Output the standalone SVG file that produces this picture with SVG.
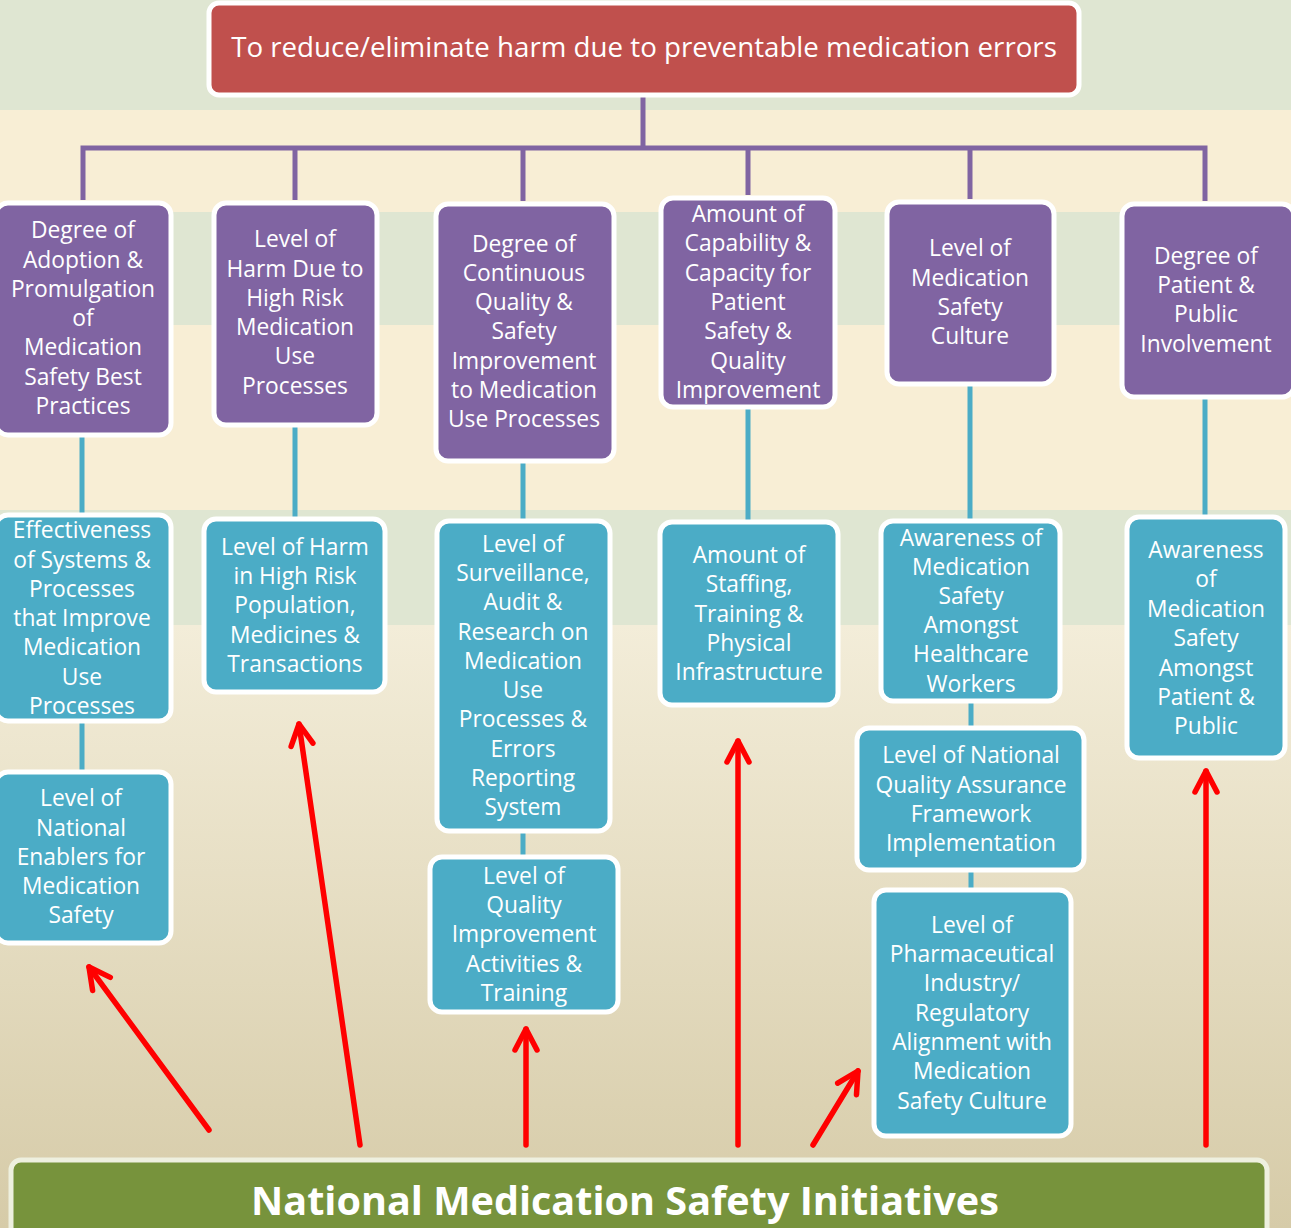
<svg xmlns="http://www.w3.org/2000/svg" width="1291" height="1228" viewBox="0 0 1291 1228">
<defs>
<linearGradient id="bg" x1="0" y1="0" x2="0" y2="1">
<stop offset="0" stop-color="#f3edd9"/>
<stop offset="1" stop-color="#d6cba8"/>
</linearGradient>
<marker id="ah" viewBox="-26 -15 30 30" refX="0" refY="0" markerWidth="30" markerHeight="30" markerUnits="userSpaceOnUse" orient="auto">
<path d="M-21,-11 L0,0 L-21,11" fill="none" stroke="#ff0000" stroke-width="5.5" stroke-linecap="round" stroke-linejoin="round"/>
</marker>
<style>
.red{fill:#c0504d;stroke:#ffffff;stroke-width:5}
.pur{fill:#8064a2;stroke:#ffffff;stroke-width:5}
.teal{fill:#4bacc6;stroke:#ffffff;stroke-width:5}
.grn{fill:#77933c;stroke:#eef0df;stroke-width:5}
text{font-family:"Open Sans","Noto Sans","Liberation Sans",sans-serif;fill:#ffffff;text-anchor:middle}
.t{font-size:22.8px}
.title{font-size:27.7px}
.big{font-size:39.6px;font-weight:bold}
.pl{stroke:#8064a2;stroke-width:5;fill:none}
.tl{stroke:#4bacc6;stroke-width:5;fill:none}
.ar{stroke:#ff0000;stroke-width:5.5;fill:none;stroke-linecap:round;marker-end:url(#ah)}
</style>
</defs>
<g id="background">
<rect x="0" y="625" width="1291" height="603" fill="url(#bg)"/>
<rect x="0" y="0" width="1291" height="110" fill="#dfe6d2"/>
<rect x="0" y="110" width="1291" height="102" fill="#f8eed5"/>
<rect x="0" y="212" width="1291" height="113" fill="#dfe6d2"/>
<rect x="0" y="325" width="1291" height="185" fill="#f8eed5"/>
<rect x="0" y="510" width="1291" height="115" fill="#dfe6d2"/>
</g>
<g id="connectors">
<path class="pl" d="M643,96 V148 M83,200 V148 H1205 V201 M295,148 V200 M523,148 V201 M748,148 V195 M970,148 V199"/>
<path class="tl" d="M82,436 V514 M82,722 V771 M295,426 V518 M523,462 V520 M523,832 V856 M748,408 V521 M970,385 V520 M971,702 V727 M971,871 V889 M1205,398 V516"/>
<line class="ar" x1="209" y1="1130" x2="89" y2="967"/>
<line class="ar" x1="360" y1="1145" x2="299" y2="724"/>
<line class="ar" x1="526" y1="1145" x2="526" y2="1029"/>
<line class="ar" x1="738" y1="1145" x2="738" y2="741"/>
<line class="ar" x1="813" y1="1145" x2="858" y2="1071"/>
<line class="ar" x1="1206" y1="1145" x2="1206" y2="771"/>
</g>
<g id="goal">
<rect class="red" x="209" y="3" width="870" height="92" rx="10"/>
<text class="title" x="644" y="57">To reduce/eliminate harm due to preventable medication errors</text>
</g>
<g id="p1">
<rect class="pur" x="-4" y="203" width="175" height="232" rx="12"/>
<text class="t"><tspan x="83" y="238">Degree of</tspan><tspan x="83" y="268">Adoption &amp;</tspan><tspan x="83" y="297">Promulgation</tspan><tspan x="83" y="326">of</tspan><tspan x="83" y="355">Medication</tspan><tspan x="83" y="385">Safety Best</tspan><tspan x="83" y="414">Practices</tspan></text>
</g>
<g id="p2">
<rect class="pur" x="214" y="203" width="163" height="222" rx="12"/>
<text class="t"><tspan x="295" y="247">Level of</tspan><tspan x="295" y="277">Harm Due to</tspan><tspan x="295" y="306">High Risk</tspan><tspan x="295" y="335">Medication</tspan><tspan x="295" y="364">Use</tspan><tspan x="295" y="394">Processes</tspan></text>
</g>
<g id="p3">
<rect class="pur" x="436" y="204" width="178" height="257" rx="12"/>
<text class="t"><tspan x="524" y="252">Degree of</tspan><tspan x="524" y="281">Continuous</tspan><tspan x="524" y="310">Quality &amp;</tspan><tspan x="524" y="339">Safety</tspan><tspan x="524" y="369">Improvement</tspan><tspan x="524" y="398">to Medication</tspan><tspan x="524" y="427">Use Processes</tspan></text>
</g>
<g id="p4">
<rect class="pur" x="661" y="198" width="174" height="209" rx="12"/>
<text class="t"><tspan x="748" y="222">Amount of</tspan><tspan x="748" y="251">Capability &amp;</tspan><tspan x="748" y="281">Capacity for</tspan><tspan x="748" y="310">Patient</tspan><tspan x="748" y="339">Safety &amp;</tspan><tspan x="748" y="369">Quality</tspan><tspan x="748" y="398">Improvement</tspan></text>
</g>
<g id="p5">
<rect class="pur" x="887" y="202" width="167" height="182" rx="12"/>
<text class="t"><tspan x="970" y="256">Level of</tspan><tspan x="970" y="286">Medication</tspan><tspan x="970" y="315">Safety</tspan><tspan x="970" y="344">Culture</tspan></text>
</g>
<g id="p6">
<rect class="pur" x="1122" y="204" width="172" height="193" rx="12"/>
<text class="t"><tspan x="1206" y="264">Degree of</tspan><tspan x="1206" y="293">Patient &amp;</tspan><tspan x="1206" y="322">Public</tspan><tspan x="1206" y="352">Involvement</tspan></text>
</g>
<g id="t1a">
<rect class="teal" x="-4" y="515" width="175" height="206" rx="12"/>
<text class="t"><tspan x="82" y="538">Effectiveness</tspan><tspan x="82" y="568">of Systems &amp;</tspan><tspan x="82" y="597">Processes</tspan><tspan x="82" y="626">that Improve</tspan><tspan x="82" y="655">Medication</tspan><tspan x="82" y="685">Use</tspan><tspan x="82" y="714">Processes</tspan></text>
</g>
<g id="t1b">
<rect class="teal" x="-4" y="772" width="175" height="171" rx="12"/>
<text class="t"><tspan x="81" y="806">Level of</tspan><tspan x="81" y="836">National</tspan><tspan x="81" y="865">Enablers for</tspan><tspan x="81" y="894">Medication</tspan><tspan x="81" y="923">Safety</tspan></text>
</g>
<g id="t2">
<rect class="teal" x="204" y="519" width="181" height="173" rx="12"/>
<text class="t"><tspan x="295" y="555">Level of Harm</tspan><tspan x="295" y="584">in High Risk</tspan><tspan x="295" y="613">Population,</tspan><tspan x="295" y="643">Medicines &amp;</tspan><tspan x="295" y="672">Transactions</tspan></text>
</g>
<g id="t3a">
<rect class="teal" x="437" y="521" width="173" height="310" rx="12"/>
<text class="t"><tspan x="523" y="552">Level of</tspan><tspan x="523" y="581">Surveillance,</tspan><tspan x="523" y="610">Audit &amp;</tspan><tspan x="523" y="640">Research on</tspan><tspan x="523" y="669">Medication</tspan><tspan x="523" y="698">Use</tspan><tspan x="523" y="727">Processes &amp;</tspan><tspan x="523" y="757">Errors</tspan><tspan x="523" y="786">Reporting</tspan><tspan x="523" y="815">System</tspan></text>
</g>
<g id="t3b">
<rect class="teal" x="430" y="857" width="188" height="155" rx="12"/>
<text class="t"><tspan x="524" y="884">Level of</tspan><tspan x="524" y="913">Quality</tspan><tspan x="524" y="942">Improvement</tspan><tspan x="524" y="972">Activities &amp;</tspan><tspan x="524" y="1001">Training</tspan></text>
</g>
<g id="t4">
<rect class="teal" x="660" y="522" width="178" height="183" rx="12"/>
<text class="t"><tspan x="749" y="563">Amount of</tspan><tspan x="749" y="592">Staffing,</tspan><tspan x="749" y="622">Training &amp;</tspan><tspan x="749" y="651">Physical</tspan><tspan x="749" y="680">Infrastructure</tspan></text>
</g>
<g id="t5a">
<rect class="teal" x="881" y="521" width="179" height="180" rx="12"/>
<text class="t"><tspan x="971" y="546">Awareness of</tspan><tspan x="971" y="575">Medication</tspan><tspan x="971" y="604">Safety</tspan><tspan x="971" y="633">Amongst</tspan><tspan x="971" y="662">Healthcare</tspan><tspan x="971" y="692">Workers</tspan></text>
</g>
<g id="t5b">
<rect class="teal" x="857" y="728" width="227" height="142" rx="12"/>
<text class="t"><tspan x="971" y="763">Level of National</tspan><tspan x="971" y="793">Quality Assurance</tspan><tspan x="971" y="822">Framework</tspan><tspan x="971" y="851">Implementation</tspan></text>
</g>
<g id="t5c">
<rect class="teal" x="874" y="890" width="197" height="246" rx="12"/>
<text class="t"><tspan x="972" y="933">Level of</tspan><tspan x="972" y="962">Pharmaceutical</tspan><tspan x="972" y="991">Industry/</tspan><tspan x="972" y="1021">Regulatory</tspan><tspan x="972" y="1050">Alignment with</tspan><tspan x="972" y="1079">Medication</tspan><tspan x="972" y="1109">Safety Culture</tspan></text>
</g>
<g id="t6">
<rect class="teal" x="1127" y="517" width="158" height="241" rx="12"/>
<text class="t"><tspan x="1206" y="558">Awareness</tspan><tspan x="1206" y="587">of</tspan><tspan x="1206" y="617">Medication</tspan><tspan x="1206" y="646">Safety</tspan><tspan x="1206" y="676">Amongst</tspan><tspan x="1206" y="705">Patient &amp;</tspan><tspan x="1206" y="734">Public</tspan></text>
</g>
<g id="initiatives">
<rect class="grn" x="11" y="1160" width="1256" height="80" rx="10"/>
<text class="big" x="625" y="1215">National Medication Safety Initiatives</text>
</g>
</svg>
